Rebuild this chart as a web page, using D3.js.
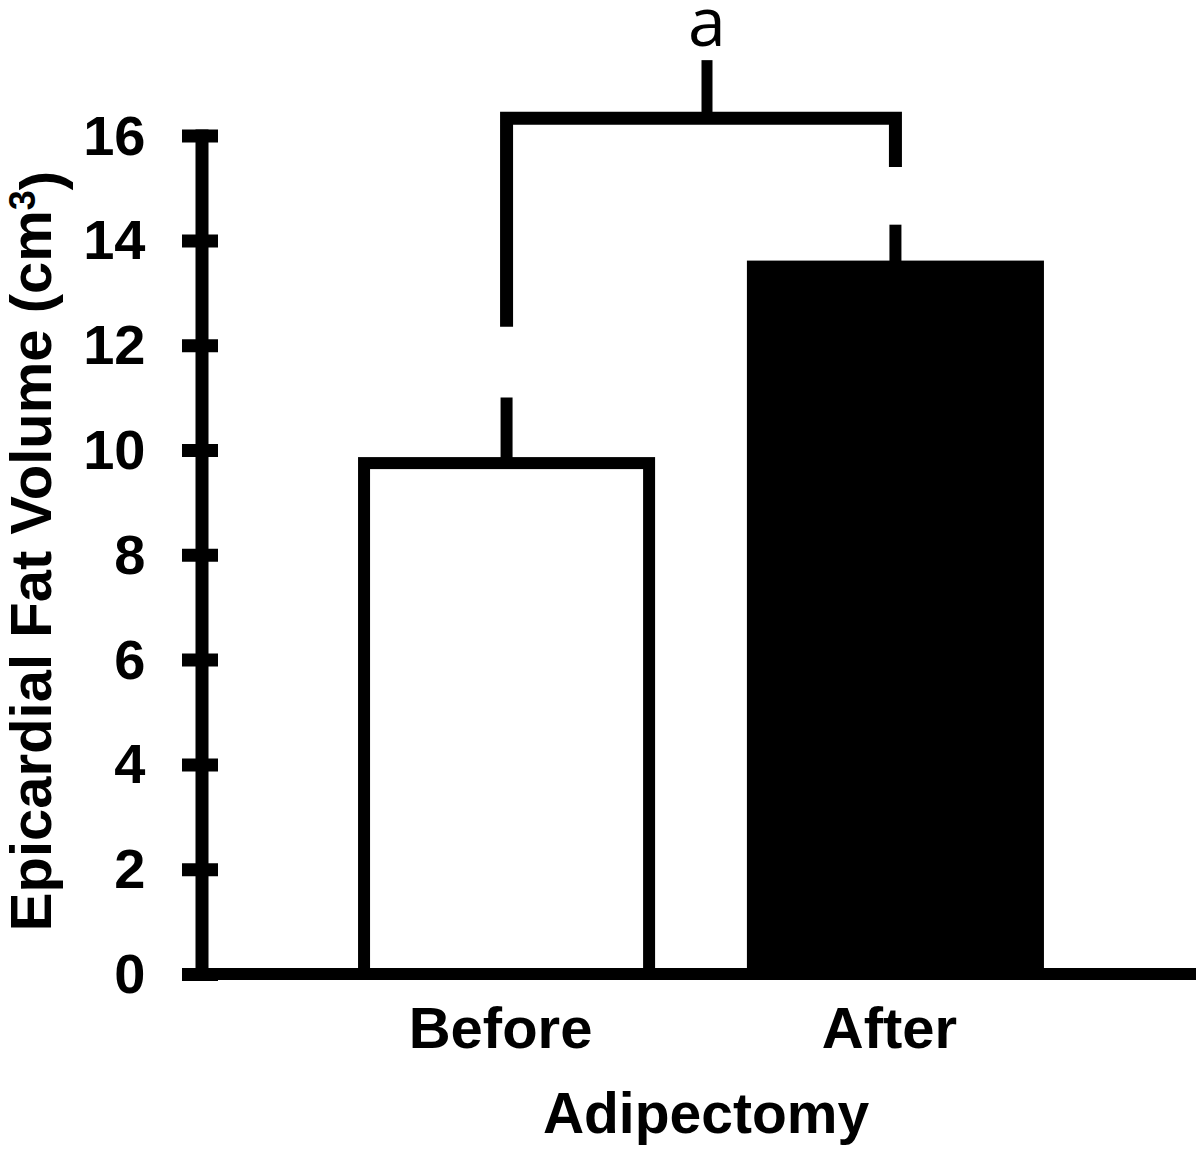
<!DOCTYPE html>
<meta charset="utf-8">
<script src="https://d3js.org/d3.v7.min.js"></script>
<style>
  body { margin: 0; background: #fff; }
  text { font-family: "Liberation Sans", Arial, sans-serif; font-weight: bold; fill: #000; }
</style>
<body>
<div id="chart"></div>
<script>
  // data
  var groups = ["Before", "After"];
  var means = [9.75, 13.5];
  var errTops = [11.0, 14.3];
  var yTicks = [0, 2, 4, 6, 8, 10, 12, 14, 16];
  // significance bracket: left foot, right foot, bar level, centre tick top
  var bracket = [12.35, 15.4, 16.33, 17.44];
  var sigLabel = "a";

  var W = 1200, H = 1152;

  var svg = d3.select("#chart").append("svg")
    .attr("width", W)
    .attr("height", H);

  var axisX = 201.5;

  var y = d3.scaleLinear()
    .domain([0, 16])
    .range([974, 135.6]);

  var x = d3.scaleBand()
    .domain(groups)
    .range([226, 1176])
    .paddingInner(0.267)
    .paddingOuter(0.355);

  // bars
  svg.selectAll(".bar")
    .data(groups)
    .enter()
    .append("rect")
    .attr("class", "bar")
    .attr("x", function (d) { return x(d); })
    .attr("width", x.bandwidth())
    .attr("y", function (d, i) { return y(means[i]); })
    .attr("height", function (d, i) { return y(0) - y(means[i]); })
    .attr("fill", function (d, i) { return i == 0 ? "#fff" : "#000"; })
    .attr("stroke", "#000")
    .attr("stroke-width", 12);

  // error bars (upper only)
  svg.selectAll(".err")
    .data(groups)
    .enter()
    .append("line")
    .attr("x1", function (d) { return x(d) + x.bandwidth() / 2; })
    .attr("x2", function (d) { return x(d) + x.bandwidth() / 2; })
    .attr("y1", function (d, i) { return y(means[i]); })
    .attr("y2", function (d, i) { return y(errTops[i]); })
    .attr("stroke", "#000")
    .attr("stroke-width", 12);

  // y axis
  var yAxis = svg.append("g")
    .attr("transform", "translate(" + axisX + ",0)")
    .call(d3.axisLeft(y).tickValues(yTicks).tickSizeOuter(0).tickSizeInner(0).tickPadding(56));

  yAxis.select(".domain")
    .attr("stroke", "#000")
    .attr("stroke-width", 13)
    .attr("stroke-linecap", "square");

  yAxis.selectAll(".tick line")
    .attr("x1", -19.5)
    .attr("x2", 16.5)
    .attr("stroke", "#000")
    .attr("stroke-width", 13);

  yAxis.selectAll(".tick text")
    .style("font-family", "'Liberation Sans', Arial, sans-serif")
    .style("font-weight", "bold")
    .style("font-size", "56px")
    .attr("dy", "0.33em")
    .attr("fill", "#000");

  // x baseline
  svg.append("line")
    .attr("x1", axisX - 19.5)
    .attr("x2", 1196)
    .attr("y1", y(0))
    .attr("y2", y(0))
    .attr("stroke", "#000")
    .attr("stroke-width", 12);

  // category labels
  svg.selectAll(".xlab")
    .data(groups)
    .enter()
    .append("text")
    .attr("x", function (d) { return x(d) + x.bandwidth() / 2 - 6; })
    .attr("y", 1048)
    .attr("text-anchor", "middle")
    .style("font-size", "58px")
    .text(function (d) { return d; });

  svg.append("text")
    .attr("x", 706)
    .attr("y", 1133)
    .attr("text-anchor", "middle")
    .style("font-size", "57px")
    .text("Adipectomy");

  // y label
  var yl = svg.append("text")
    .attr("transform", "translate(51," + 551 + ") rotate(-90)")
    .attr("text-anchor", "middle")
    .style("font-size", "58px");
  yl.append("tspan").text("Epicardial Fat Volume (cm");
  yl.append("tspan").attr("dy", "-0.45em").style("font-size", "36px").text("3");
  yl.append("tspan").attr("dy", "0.45em").text(")");

  // significance bracket
  var xl = x(groups[0]) + x.bandwidth() / 2,
    xr = x(groups[1]) + x.bandwidth() / 2,
    xm = (xl + xr) / 2 + 6;

  svg.append("path")
    .attr("d", "M" + xl + "," + y(bracket[0]) + "V" + y(bracket[2]) + "H" + xr + "V" + y(bracket[1]))
    .attr("fill", "none")
    .attr("stroke", "#000")
    .attr("stroke-width", 13)
    .attr("stroke-linejoin", "miter");

  svg.append("line")
    .attr("x1", xm).attr("x2", xm)
    .attr("y1", y(bracket[2]))
    .attr("y2", y(bracket[3]))
    .attr("stroke", "#000")
    .attr("stroke-width", 11);

  svg.append("text")
    .attr("x", xm)
    .attr("y", 46)
    .attr("text-anchor", "middle")
    .style("font-family", "'Open Sans', sans-serif")
    .style("font-weight", "normal")
    .style("font-size", "68px")
    .text(sigLabel);
</script>
</body>
